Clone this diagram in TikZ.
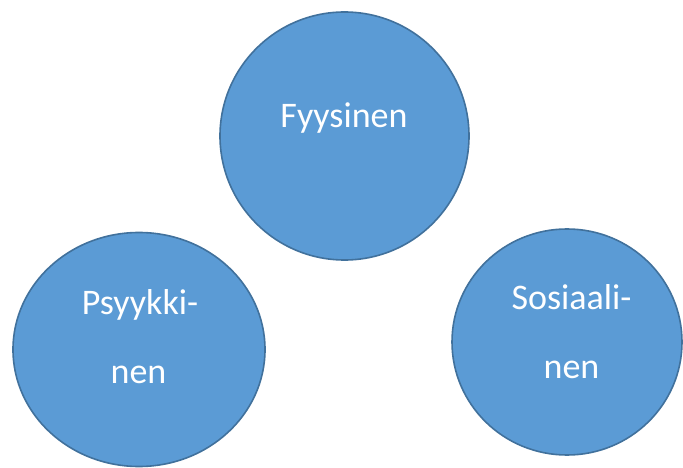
\documentclass[tikz,border=0pt]{standalone}
\usepackage{fontspec}
\setmainfont{Carlito}
\usetikzlibrary{shapes.geometric}
\definecolor{circfill}{HTML}{5B9BD5}
\definecolor{circline}{HTML}{41719C}
\tikzset{
  bubble/.style={ellipse, draw=circline, fill=circfill, line width=1.6bp, inner sep=0pt},
  label/.style={text=white, font=\fontsize{36bp}{36bp}\selectfont, anchor=base, inner sep=0pt}
}
\begin{document}
\begin{tikzpicture}[x=1bp,y=-1bp]
  \useasboundingbox (0,0) rectangle (683,468);
  % three aspects as bubbles
  \node[bubble, minimum width=249bp, minimum height=248bp] (fyy) at (344.5,136) {};
  \node[bubble, minimum width=252bp, minimum height=234bp] (psy) at (139,349.5) {};
  \node[bubble, minimum width=230bp, minimum height=226bp] (sos) at (567,342) {};
  % labels
  \node[label] (fyyt) at (344,128) {Fyysinen};
  \node[label] (psyt1) at (140,315) {Psyykki-};
  \node[label] (psyt2) at (138.5,383) {nen};
  \node[label] (sost1) at (571.5,310) {Sosiaali-};
  \node[label] (sost2) at (571.5,378) {nen};
\end{tikzpicture}
\end{document}
